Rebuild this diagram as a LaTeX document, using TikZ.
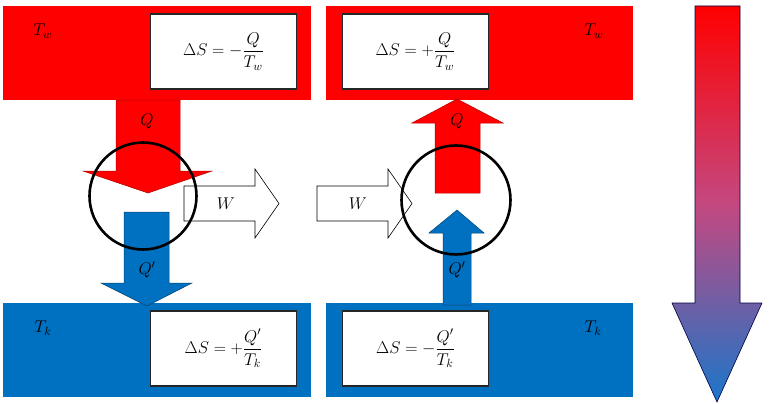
\RequirePackage{fix-cm}
\documentclass[tikz,border=0pt]{standalone}
\usepackage{amsmath}
\begin{document}
\begin{tikzpicture}[x=1pt,y=-1pt,
  eqbox/.style={draw=black!85,line width=1.2pt,fill=white,minimum width=146pt,minimum height=75pt,inner sep=0pt,font=\fontsize{17}{20}\selectfont},
  lbl/.style={font=\fontsize{17}{20}\selectfont,inner sep=0pt},
  redarrow/.style={fill=red,draw=red!70!black,line width=0.5pt,line join=miter},
  bluearrow/.style={fill=myblue,draw=myblue!60!black,line width=0.5pt,line join=miter},
  warrow/.style={fill=white,draw=black,line width=0.6pt,line join=miter},
  ring/.style={draw=black,line width=2.6pt}]
\definecolor{myblue}{RGB}{0,112,192}
\definecolor{gradmid}{RGB}{196,72,128}
\definecolor{gradbot}{RGB}{26,118,202}
\useasboundingbox (0,0) rectangle (771,404);
% reservoirs
\fill[red] (3,6) rectangle (311,100);
\fill[red] (326,6) rectangle (633,100);
\fill[myblue] (3,303) rectangle (311,397);
\fill[myblue] (326,303) rectangle (633,397);
% labels
\node[lbl] (tw1) at (43,31) {$T_w$};
\node[lbl] (tw2) at (594,31) {$T_w$};
\node[lbl] (tk1) at (43,328) {$T_k$};
\node[lbl] (tk2) at (593,328) {$T_k$};
% boxes
\node[eqbox] (e1) at (223.5,51.5) {$\Delta S=-\dfrac{Q}{T_w}$};
\node[eqbox] (e2) at (415.5,51.5) {$\Delta S=+\dfrac{Q}{T_w}$};
\node[eqbox] (e3) at (223.5,348.5) {$\Delta S=+\dfrac{Q'}{T_k}$};
\node[eqbox] (e4) at (415.5,348.5) {$\Delta S=-\dfrac{Q'}{T_k}$};
% left engine arrows
\draw[redarrow] (116,100) -- (180,100) -- (180,171) -- (212,171) -- (148,193) -- (83,171) -- (116,171) -- cycle;
\node[lbl] (q1) at (147,121) {$Q$};
\draw[bluearrow] (124,212) -- (169,212) -- (169,283) -- (192,283) -- (147,306) -- (101,283) -- (124,283) -- cycle;
\node[lbl] (qp1) at (147,270) {$Q'$};
% W arrows
\draw[warrow] (184,186) -- (255,186) -- (255,169) -- (279,203.5) -- (255,238) -- (255,221) -- (184,221) -- cycle;
\node[lbl] (w1) at (226,204) {$W$};
\draw[warrow] (317,186) -- (388,186) -- (388,169) -- (412,203.5) -- (388,238) -- (388,221) -- (317,221) -- cycle;
\node[lbl] (w2) at (358,204) {$W$};
% right engine arrows
\draw[redarrow] (435,193) -- (480,193) -- (480,123) -- (503,123) -- (457,99) -- (412,123) -- (435,123) -- cycle;
\node[lbl] (q2) at (457,121) {$Q$};
\draw[bluearrow] (443,305) -- (471,305) -- (471,233) -- (484,233) -- (457,210) -- (429,233) -- (443,233) -- cycle;
\node[lbl] (qp2) at (457,270) {$Q'$};
% engines
\draw[ring] (143,196) circle (53.5);
\draw[ring] (456,200) circle (54.5);
% gradient arrow
\shadedraw[top color=red,bottom color=gradbot,middle color=gradmid,draw=black!75!blue,line width=0.6pt,line join=miter]
  (695,6) -- (740,6) -- (740,303) -- (762,303) -- (717,402) -- (672,303) -- (695,303) -- cycle;
\end{tikzpicture}
\end{document}
